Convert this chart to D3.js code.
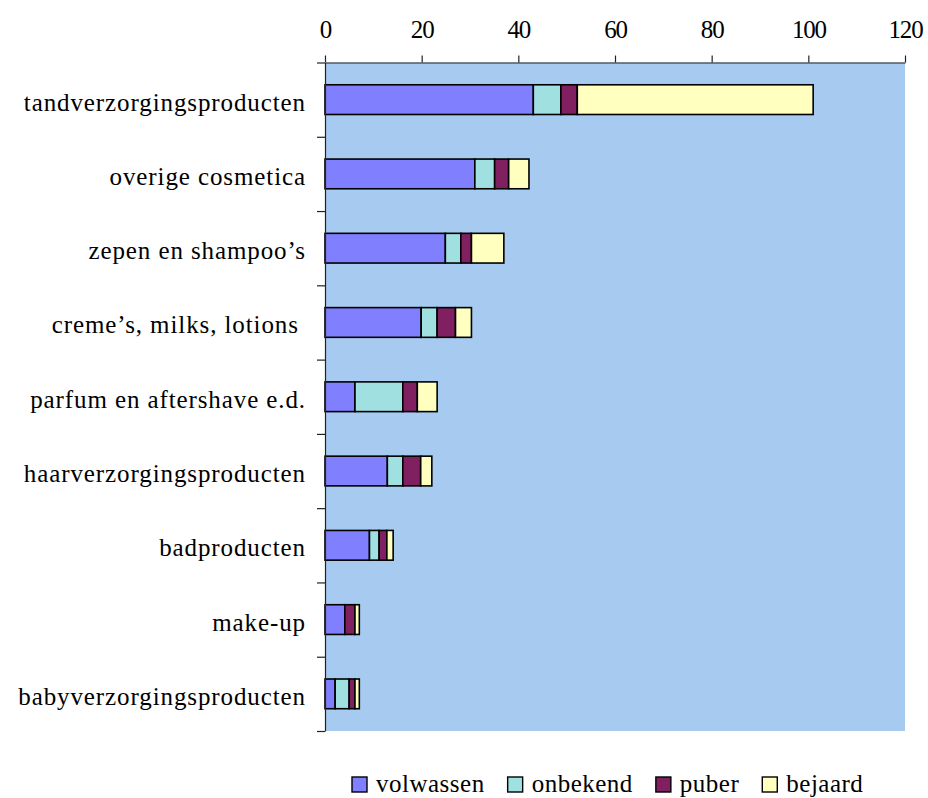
<!DOCTYPE html>
<html>
<head>
<meta charset="utf-8">
<script src="https://cdn.jsdelivr.net/npm/d3@7"></script>
<style>
  html, body { margin: 0; padding: 0; background: #fff; }
  svg { display: block; }
  text { font-family: "Liberation Serif", "Times New Roman", serif; fill: #000; }
</style>
</head>
<body>
<svg id="chart" width="928" height="798"></svg>
<script>
// Product categories, top to bottom
const categories = [
  "tandverzorgingsproducten",
  "overige cosmetica",
  "zepen en shampoo’s",
  "creme’s, milks, lotions ",
  "parfum en aftershave e.d.",
  "haarverzorgingsproducten",
  "badproducten",
  "make-up",
  "babyverzorgingsproducten"
];

// Age-group series (stacked left to right)
const seriesNames = ["volwassen", "onbekend", "puber", "bejaard"];
const volwassen = [43.1, 31.0, 24.9, 19.9, 6.2, 12.9, 9.2, 4.1, 2.1];
const onbekend  = [5.7, 4.1, 3.2, 3.3, 9.9, 3.2, 2.0, 0.0, 2.9];
const puber     = [3.4, 2.9, 2.2, 3.8, 3.0, 3.7, 1.6, 2.1, 1.2];
const bejaard   = [48.8, 4.2, 6.7, 3.3, 4.1, 2.3, 1.3, 0.9, 0.9];

const xTicks = [0, 20, 40, 60, 80, 100, 120];
const colors = ["#8080FF", "#A0E0E0", "#802060", "#FFFFC0"];

const rows = categories.map((c, i) => ({
  category: c,
  volwassen: volwassen[i],
  onbekend: onbekend[i],
  puber: puber[i],
  bejaard: bejaard[i]
}));

const svg = d3.select("#chart");
const plot = { left: 325, right: 905, top: 62.5, bottom: 731 };

const x = d3.scaleLinear().domain([0, 120]).range([plot.left, plot.right]);
const y = d3.scaleBand().domain(categories).range([plot.top, plot.bottom])
  .paddingInner(0.6).paddingOuter(0.3);
const color = d3.scaleOrdinal().domain(seriesNames).range(colors);

// plot background
svg.append("rect")
  .attr("x", plot.left).attr("y", plot.top)
  .attr("width", plot.right - plot.left).attr("height", plot.bottom - plot.top)
  .attr("fill", "#A6CAF0");

// stacked bars
const stacked = d3.stack().keys(seriesNames)(rows);
svg.append("g").selectAll("g")
  .data(stacked)
  .join("g")
    .attr("fill", d => color(d.key))
  .selectAll("rect")
  .data(d => d.filter(s => s[1] - s[0] > 0))
  .join("rect")
    .attr("x", d => x(d[0]))
    .attr("y", d => y(d.data.category))
    .attr("width", d => x(d[1]) - x(d[0]))
    .attr("height", y.bandwidth())
    .attr("stroke", "#000")
    .attr("stroke-width", 1.6);

// left axis: category boundary ticks
const yb = d3.scaleLinear().domain([0, categories.length]).range([plot.top, plot.bottom]);
const leftAxis = svg.append("g")
  .attr("transform", `translate(${plot.left},0)`)
  .call(d3.axisLeft(yb).tickValues(d3.range(categories.length + 1)).tickSize(8).tickSizeOuter(0).tickFormat(""));
leftAxis.selectAll("path, line").attr("stroke", "#222").attr("stroke-width", 1.2);

// top value axis
const topAxis = svg.append("g")
  .attr("transform", `translate(0,${plot.top})`)
  .call(d3.axisTop(x).tickValues(xTicks).tickSize(7).tickSizeOuter(0).tickFormat(d3.format("d")));
topAxis.selectAll("path, line").attr("stroke", "#222").attr("stroke-width", 1.2);
topAxis.selectAll("text")
  .attr("y", -25)
  .attr("dy", 0)
  .style("font-size", "25px")
  .style("letter-spacing", "-1.2px")
  .style("font-family", "'Liberation Serif', serif");

// category labels
svg.append("g").selectAll("text")
  .data(categories)
  .join("text")
    .attr("x", 306)
    .attr("y", d => y(d) + y.bandwidth() / 2 + 11)
    .attr("text-anchor", "end")
    .style("font-size", "25px")
    .style("letter-spacing", "0.9px")
    .style("white-space", "pre")
    .text(d => d);

// legend
const legend = svg.append("g").attr("transform", "translate(352,777)");
let lx = 0;
seriesNames.forEach(name => {
  const g = legend.append("g").attr("transform", `translate(${lx},0)`);
  g.append("rect")
    .attr("width", 15).attr("height", 15)
    .attr("fill", color(name))
    .attr("stroke", "#000").attr("stroke-width", 1.4);
  const t = g.append("text")
    .attr("x", 24).attr("y", 15)
    .style("font-size", "25px")
    .style("letter-spacing", "0.5px")
    .text(name);
  lx += 24 + t.node().getComputedTextLength() + 23;
});
</script>
</body>
</html>
